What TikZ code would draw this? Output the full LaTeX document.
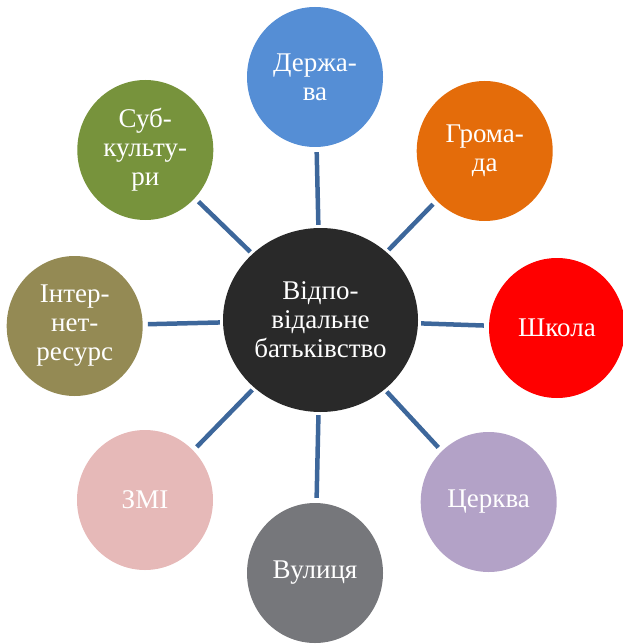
\documentclass[tikz,border=0pt]{standalone}
\usepackage{fontspec}
\setmainfont{Liberation Serif}
\usetikzlibrary{shapes.geometric}
\definecolor{cDer}{HTML}{558ED5}
\definecolor{cGro}{HTML}{E46C0A}
\definecolor{cShk}{HTML}{FF0000}
\definecolor{cCer}{HTML}{B3A2C7}
\definecolor{cVul}{HTML}{76777B}
\definecolor{cZmi}{HTML}{E6B9B8}
\definecolor{cInt}{HTML}{948A54}
\definecolor{cSub}{HTML}{77933C}
\definecolor{cCen}{HTML}{292929}
\definecolor{cLink}{HTML}{3D679B}
\begin{document}
\begin{tikzpicture}[x=1pt,y=-1pt,
  bubble/.style={ellipse, minimum width=136pt, minimum height=140pt, inner sep=0pt,
    text=white, align=center, font=\fontsize{27}{29}\selectfont},
  link/.style={draw=cLink, line width=4.5pt, shorten <=3pt, shorten >=5pt}]
\useasboundingbox (0,0) rectangle (622,644);
\node[bubble, fill=cCen, minimum width=195pt, minimum height=184pt] (c) at (320.5,320) {Відпо-\\відальне\\батьківство};
\node[bubble, fill=cDer] (d) at (315,77) {Держа-\\ва};
\node[bubble, fill=cGro] (g) at (484.7,151) {Грома-\\да};
\node[bubble, fill=cShk] (s) at (557,328) {Школа};
\node[bubble, fill=cCer] (ch) at (488.7,502) {Церква};
\node[bubble, fill=cVul] (v) at (315,573) {Вулиця};
\node[bubble, fill=cZmi] (z) at (145,500) {ЗМІ};
\node[bubble, fill=cInt] (i) at (74.7,326) {Інтер-\\нет-\\ресурс};
\node[bubble, fill=cSub] (sk) at (145.3,150) {Суб-\\культу-\\ри};
\foreach \t in {d,g,s,ch,v,z,i,sk} \draw[link] (c) -- (\t);
\end{tikzpicture}
\end{document}
